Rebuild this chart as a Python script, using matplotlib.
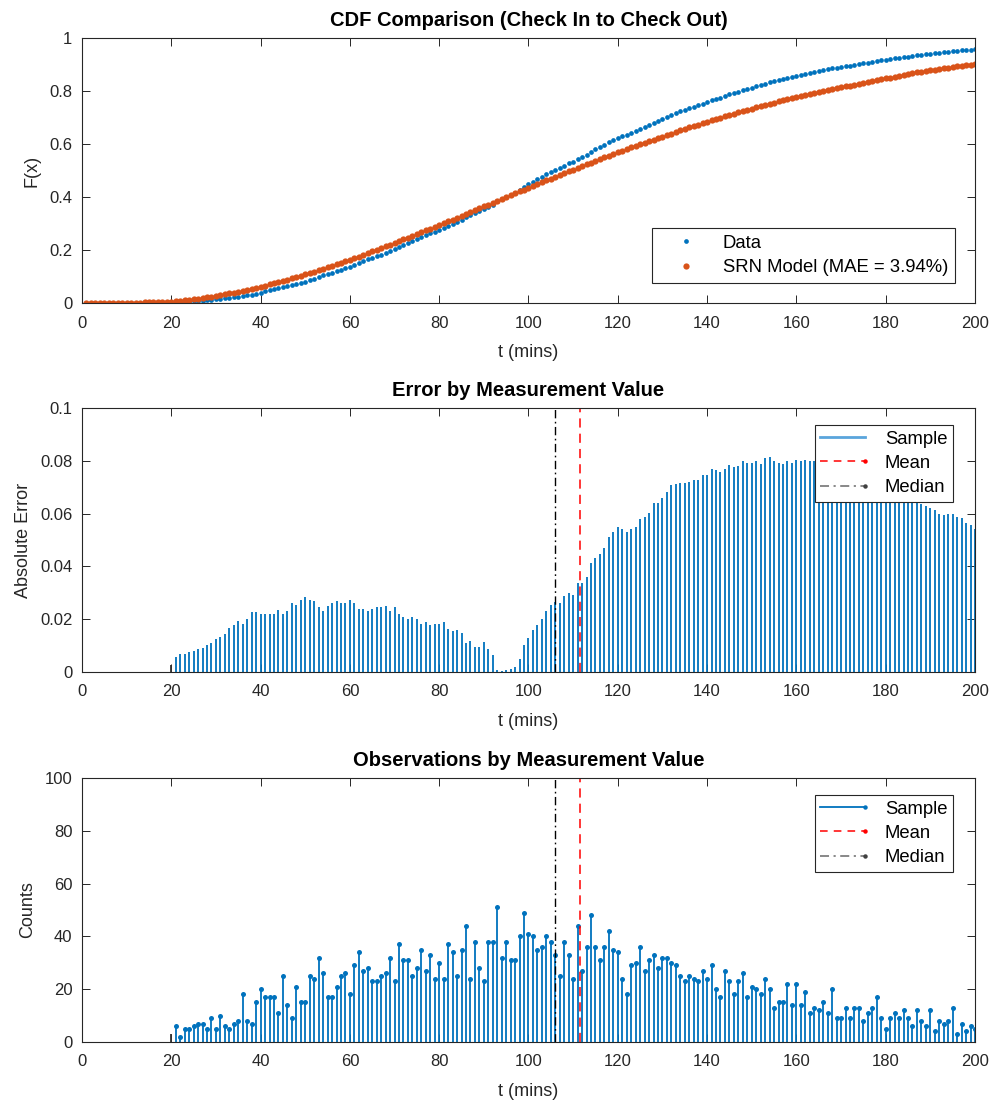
import numpy as np
import matplotlib
matplotlib.use("Agg")
import matplotlib.pyplot as plt
from matplotlib.lines import Line2D
from matplotlib.legend_handler import HandlerBase

plt.rcParams['font.family'] = ['Liberation Sans', 'DejaVu Sans']

BLUE = '#0072BD'
ORANGE = '#D95319'
AXC = '#262626'

# ---------------- data ----------------
t_obs = np.arange(21, 201)          # measurement values (mins)
counts = [
    6, 2, 5, 5, 6, 7, 7, 5, 9, 5, 10, 6, 5, 7, 8, 18, 8, 7, 15, 20,
    17, 17, 17, 11, 25, 14, 9, 21, 15, 15, 25, 24, 32, 26, 17, 17, 21, 25, 26, 18,
    29, 34, 27, 28, 23, 23, 25, 26, 32, 23, 37, 31, 31, 25, 28, 35, 27, 33, 24, 30,
    24, 37, 34, 25, 35, 44, 24, 38, 28, 23, 38, 38, 51, 32, 38, 31, 31, 40, 49, 41,
    40, 35, 36, 40, 38, 33, 25, 38, 33, 24, 44, 27, 36, 48, 36, 31, 36, 42, 35, 34,
    24, 18, 29, 30, 36, 27, 31, 33, 28, 32, 32, 30, 29, 25, 23, 25, 24, 23, 27, 24,
    29, 20, 17, 27, 23, 18, 23, 26, 17, 21, 20, 18, 24, 20, 13, 15, 15, 22, 14, 22,
    14, 19, 11, 13, 12, 15, 11, 20, 9, 9, 13, 9, 13, 13, 8, 11, 13, 17, 9, 5,
    9, 11, 9, 12, 9, 6, 12, 8, 6, 12, 4, 8, 7, 8, 13, 3, 7, 4, 6, 5,
]
# absolute error |data CDF - model CDF| (x 1e-3), t = 21..200
abs_err_milli = [
    5.6, 6.8, 6.8, 7.4, 8.1, 8.6, 9.1, 10.4, 10.9, 12.6, 13.1, 14.4, 16.7, 17.9, 19.4, 18.2, 20.2, 22.6, 22.6, 22.0,
    22.0, 22.0, 22.0, 23.6, 22.0, 23.2, 26.1, 25.5, 27.1, 28.4, 27.4, 26.8, 24.5, 23.0, 24.9, 26.1, 26.8, 26.1, 26.1, 27.1,
    26.1, 23.9, 23.9, 23.2, 23.9, 24.5, 24.5, 24.9, 23.2, 24.5, 22.0, 20.7, 20.2, 20.7, 20.2, 18.1, 19.0, 17.8, 18.3, 18.0,
    18.9, 16.4, 15.4, 15.9, 14.9, 10.9, 11.9, 9.6, 9.6, 11.4, 8.8, 6.6, 0.8, 0.3, 0.8, 1.3, 2.0, 4.8, 10.4, 12.9,
    15.9, 17.7, 19.9, 23.0, 25.5, 26.5, 26.0, 28.8, 30.0, 29.3, 33.6, 33.6, 36.1, 41.2, 43.2, 44.7, 47.0, 51.0, 53.0, 55.0,
    54.3, 53.0, 54.0, 55.0, 58.0, 58.6, 60.4, 63.9, 64.1, 65.9, 68.2, 71.0, 71.2, 71.7, 71.7, 72.0, 72.7, 72.7, 74.5, 74.5,
    77.0, 76.4, 75.8, 77.0, 78.3, 77.7, 78.0, 79.8, 79.3, 79.3, 79.8, 78.9, 81.0, 81.6, 79.8, 79.3, 78.8, 79.8, 79.3, 80.3,
    79.8, 80.3, 80.0, 79.8, 79.5, 79.0, 78.7, 78.5, 77.8, 77.2, 76.6, 76.0, 75.5, 75.0, 74.2, 73.8, 73.0, 72.7, 71.7, 70.5,
    69.7, 69.0, 68.0, 67.2, 66.5, 65.3, 64.8, 63.6, 62.7, 62.2, 61.2, 60.0, 59.3, 60.0, 60.0, 58.7, 58.3, 56.6, 55.8, 54.3,
]
n_total = 4068            # total observations (CDF reaches ~0.957 at t = 200)
crossover_t = 93.5        # model above data before, below after
# model CDF before the first observation, t = 1..20
t_pre = np.arange(1, 21)
model_pre = [0, 0, 0, 0, 0, 0, 0.0002, 0.0003, 0.0005, 0.0007, 0.001, 0.0013, 0.0017,
             0.0021, 0.0026, 0.0031, 0.0036, 0.0042, 0.0047, 0.0052]
t_first = 20              # short dark stem at start of sample range
first_err = 0.0027
first_count = 3
mean_t = 111.5
median_t = 106.0

# ---------------- derived series ----------------
counts_a = np.array(counts, float)
err = np.array(abs_err_milli) / 1000.0
data_cdf = np.cumsum(counts_a) / n_total
sign = np.where(t_obs < crossover_t, 1.0, -1.0)
model_cdf = data_cdf + sign * err

t_data = np.concatenate([[t_first], t_obs])
y_data = np.concatenate([[0.0], data_cdf])
t_model = np.concatenate([t_pre, t_obs])
y_model = np.concatenate([model_pre, model_cdf])

# ---------------- figure ----------------
fig = plt.figure(figsize=(9.95, 11.1), dpi=100)
W, H = 995, 1110
def add_ax(left, top, right, bottom):
    return fig.add_axes([left / W, 1 - bottom / H, (right - left) / W, (bottom - top) / H])

ax1 = add_ax(82, 38, 975, 303)
ax2 = add_ax(82, 408, 975, 672)
ax3 = add_ax(82, 778, 975, 1042)

TICK_FS = 12
LAB_FS = 13
TTL_FS = 14.5
LEG_FS = 13.3

def style(ax):
    for s in ax.spines.values():
        s.set_color(AXC)
        s.set_linewidth(0.8)
    ax.tick_params(direction='in', top=True, right=True, length=5.5, width=0.7,
                   colors=AXC, labelsize=TICK_FS)
    ax.tick_params(axis='x', pad=9)
    ax.tick_params(axis='y', pad=7)
    ax.set_xlim(0, 200)
    ax.set_xticks(np.arange(0, 201, 20))
    ax.set_xlabel('t (mins)', fontsize=LAB_FS, color=AXC, labelpad=10)

class EndDotHandler(HandlerBase):
    def __init__(self, lcolor, ls, lw, dcolor=None, dot=True):
        super().__init__()
        self.lcolor, self.ls, self.lw, self.dcolor, self.dot = lcolor, ls, lw, dcolor, dot
    def create_artists(self, legend, orig_handle, xdescent, ydescent, width, height, fontsize, trans):
        y = height / 2 - ydescent
        x0, x1 = -xdescent, width - xdescent
        ln = Line2D([x0, x1], [y, y], color=self.lcolor, ls=self.ls, lw=self.lw)
        ln.set_transform(trans)
        arts = [ln]
        if self.dot:
            d = Line2D([x1], [y], marker='o', ms=3.2, color=self.dcolor, ls='none', mew=0)
            d.set_transform(trans)
            arts.append(d)
        return arts

# ---- top: CDF comparison ----
ax1.plot(t_data, y_data, 'o', color=BLUE, ms=3.4, mew=0, label='Data')
ax1.plot(t_model, y_model, 'o', color=ORANGE, ms=4.5, mew=0, label='SRN Model (MAE = 3.94%)')
style(ax1)
ax1.set_ylim(0, 1)
ax1.set_yticks([0, 0.2, 0.4, 0.6, 0.8, 1])
ax1.set_yticklabels(['0', '0.2', '0.4', '0.6', '0.8', '1'])
ax1.set_ylabel('F(x)', fontsize=LAB_FS, color=AXC, labelpad=6)
ax1.set_title('CDF Comparison (Check In to Check Out)', fontsize=TTL_FS, fontweight='bold', pad=9)
leg1 = ax1.legend(loc='lower right', bbox_to_anchor=(0.9776, 0.0755), borderaxespad=0,
                  fontsize=LEG_FS, frameon=True, fancybox=False, framealpha=1,
                  edgecolor=AXC, numpoints=1, handlelength=3.0, handletextpad=0.5,
                  labelspacing=0.4, borderpad=0.36)
leg1.get_frame().set_linewidth(0.8)

# ---- middle: error ----
ax2.vlines(t_obs, 0, err, color=BLUE, lw=1.3)
ax2.vlines([t_first], 0, [first_err], color='#333333', lw=1.3)
ax2.axvline(mean_t, color='#FF0000', ls=(0, (6, 4)), lw=1.1)
ax2.axvline(median_t, color='black', ls=(0, (6, 2.5, 1.2, 2.5)), lw=1.0)
style(ax2)
ax2.set_ylim(0, 0.1)
ax2.set_yticks([0, 0.02, 0.04, 0.06, 0.08, 0.1])
ax2.set_yticklabels(['0', '0.02', '0.04', '0.06', '0.08', '0.1'])
ax2.set_ylabel('Absolute Error', fontsize=LAB_FS, color=AXC, labelpad=6)
ax2.set_title('Error by Measurement Value', fontsize=TTL_FS, fontweight='bold', pad=9)

h_s, h_m, h_d = Line2D([], []), Line2D([], []), Line2D([], [])
hmap2 = {h_s: EndDotHandler('#5AA5DC', '-', 2.0, dot=False),
         h_m: EndDotHandler('#FF0000', (0, (5, 4)), 1.1, dcolor='#FF0000'),
         h_d: EndDotHandler('#7F7F7F', (0, (5, 2.5, 1.2, 2.5)), 1.3, dcolor='#404040')}
leg2 = ax2.legend([h_s, h_m, h_d], ['Sample', 'Mean', 'Median'], handler_map=hmap2,
                  loc='upper right', bbox_to_anchor=(0.9754, 0.9356), borderaxespad=0,
                  fontsize=LEG_FS, frameon=True, fancybox=False, framealpha=1,
                  edgecolor=AXC, handlelength=2.4, handletextpad=1.1,
                  labelspacing=0.4, borderpad=0.3)
leg2.get_frame().set_linewidth(0.8)

# ---- bottom: counts ----
ax3.vlines(t_obs, 0, counts_a, color=BLUE, lw=1.3)
ax3.plot(t_obs, counts_a, 'o', color=BLUE, ms=3.6, mew=0)
ax3.vlines([t_first], 0, [first_count], color='#333333', lw=1.3)
ax3.axvline(mean_t, color='#FF0000', ls=(0, (6, 4)), lw=1.1)
ax3.axvline(median_t, color='black', ls=(0, (6, 2.5, 1.2, 2.5)), lw=1.0)
style(ax3)
ax3.set_ylim(0, 100)
ax3.set_yticks(np.arange(0, 101, 20))
ax3.set_ylabel('Counts', fontsize=LAB_FS, color=AXC, labelpad=6)
ax3.set_title('Observations by Measurement Value', fontsize=TTL_FS, fontweight='bold', pad=9)

h_s3, h_m3, h_d3 = Line2D([], []), Line2D([], []), Line2D([], [])
hmap3 = {h_s3: EndDotHandler(BLUE, '-', 1.3, dcolor=BLUE),
         h_m3: EndDotHandler('#FF0000', (0, (5, 4)), 1.1, dcolor='#FF0000'),
         h_d3: EndDotHandler('#7F7F7F', (0, (5, 2.5, 1.2, 2.5)), 1.3, dcolor='#404040')}
leg3 = ax3.legend([h_s3, h_m3, h_d3], ['Sample', 'Mean', 'Median'], handler_map=hmap3,
                  loc='upper right', bbox_to_anchor=(0.9754, 0.9356), borderaxespad=0,
                  fontsize=LEG_FS, frameon=True, fancybox=False, framealpha=1,
                  edgecolor=AXC, handlelength=2.4, handletextpad=1.1,
                  labelspacing=0.4, borderpad=0.3)
leg3.get_frame().set_linewidth(0.8)

fig.savefig('out.png', dpi=100, facecolor='white')
